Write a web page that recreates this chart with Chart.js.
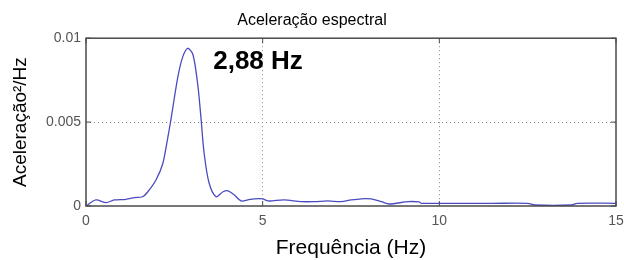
<!DOCTYPE html>
<html>
<head>
    <title>Aceleração espectral</title>
    <style>
        body { margin: 0; background: #fff; }
        #wrap { width: 624px; height: 260px; }
    </style>
</head>
<body>
    <div id="wrap"><canvas id="chart"></canvas></div>

    <script src="https://cdn.jsdelivr.net/npm/chart.js"></script>
    <script>
        // spectrum (Hz, aceleração²/Hz)
        const freqs = [0, 0.28, 0.57, 0.8, 1.13, 1.37, 1.6, 1.75, 1.98, 2.17, 2.3, 2.4, 2.6, 2.74, 2.88,
            3.03, 3.17, 3.26, 3.34, 3.48, 3.68, 3.88, 4.02, 4.2, 4.39, 4.58, 4.76, 5.0, 5.15, 5.6, 6.09,
            6.46, 6.85, 7.22, 7.5, 7.79, 8.07, 8.36, 8.58, 9.12, 9.43, 9.49, 10.5, 11.5, 12.5, 12.7,
            13.74, 13.9, 15];
        const accel = [0, 0.00036, 0.0002, 0.00036, 0.0004, 0.0005, 0.00055, 0.00085, 0.00155, 0.0025,
            0.0039, 0.0051, 0.0077, 0.0089, 0.0094, 0.009, 0.0071, 0.0051, 0.0032, 0.0014, 0.00055,
            0.00085, 0.0009, 0.00065, 0.0003, 0.00036, 0.00043, 0.00043, 0.0003, 0.00036, 0.00026,
            0.00026, 0.0003, 0.00026, 0.00036, 0.00043, 0.00042, 0.00026, 0.00012, 0.00026, 0.00024,
            0.00016, 0.00016, 0.00016, 0.00016, 0.00006, 0.00006, 0.00016, 0.00016];
        const xTicks = [0, 5, 10, 15];
        const yTicks = [0, 0.005, 0.01];
        const yTickLabels = ['0', '0.005', '0.01'];
        const peakLabel = '2,88 Hz';

        const points = freqs.map((f, i) => ({ x: f, y: accel[i] }));
        const FONT = '"Liberation Sans", Arial, sans-serif';

        // MATLAB-like box, inward ticks and the peak label
        const boxPlugin = {
            id: 'box',
            afterDraw(chart) {
                const ctx = chart.ctx;
                const a = chart.chartArea;
                const xs = chart.scales.x, ys = chart.scales.y;
                ctx.save();
                ctx.strokeStyle = '#4a4a4a';
                ctx.lineWidth = 1.5;
                ctx.strokeRect(a.left, a.top, a.right - a.left, a.bottom - a.top);
                ctx.lineWidth = 1;
                xTicks.forEach(v => {
                    const px = xs.getPixelForValue(v);
                    ctx.beginPath();
                    ctx.moveTo(px, a.bottom); ctx.lineTo(px, a.bottom - 5);
                    ctx.moveTo(px, a.top); ctx.lineTo(px, a.top + 5);
                    ctx.stroke();
                });
                yTicks.forEach(v => {
                    const py = ys.getPixelForValue(v);
                    ctx.beginPath();
                    ctx.moveTo(a.left, py); ctx.lineTo(a.left + 5, py);
                    ctx.moveTo(a.right, py); ctx.lineTo(a.right - 5, py);
                    ctx.stroke();
                });
                ctx.fillStyle = '#000';
                ctx.font = 'bold 26px ' + FONT;
                ctx.textAlign = 'left';
                ctx.textBaseline = 'middle';
                ctx.fillText(peakLabel, xs.getPixelForValue(3.6), ys.getPixelForValue(0.0086));
                ctx.restore();
            }
        };

        const gridColor = (ctx, ends) => ends.includes(ctx.tick.value) ? 'rgba(0,0,0,0)' : '#888';

        new Chart(document.getElementById('chart'), {
            type: 'scatter',
            data: {
                datasets: [{
                    data: points,
                    showLine: true,
                    borderColor: '#4b4bc0',
                    borderWidth: 1.3,
                    pointRadius: 0,
                    tension: 0.3
                }]
            },
            options: {
                responsive: true,
                maintainAspectRatio: false,
                animation: false,
                layout: { padding: { left: 0, right: 0, top: 0, bottom: 0 } },
                plugins: {
                    legend: { display: false },
                    tooltip: { enabled: false },
                    title: {
                        display: true,
                        text: 'Aceleração espectral',
                        color: '#000',
                        font: { family: FONT, size: 16, weight: 'normal' },
                        padding: { top: 11, bottom: 8 }
                    }
                },
                scales: {
                    x: {
                        type: 'linear',
                        min: 0, max: 15,
                        afterBuildTicks: s => { s.ticks = xTicks.map(v => ({ value: v })); },
                        afterFit: s => { s.height = 54; s.paddingRight = 8; s.paddingLeft = 0; },
                        ticks: {
                            color: '#555',
                            padding: 7,
                            font: { family: FONT, size: 14 }
                        },
                        grid: { color: c => gridColor(c, [0, 15]), drawTicks: false, lineWidth: 1 },
                        border: { display: false, dash: [1, 3] },
                        title: {
                            display: true,
                            text: 'Frequência (Hz)',
                            color: '#000',
                            font: { family: FONT, size: 21 },
                            padding: { top: 0, bottom: -1 }
                        }
                    },
                    y: {
                        min: 0, max: 0.01,
                        afterBuildTicks: s => { s.ticks = yTicks.map(v => ({ value: v })); },
                        afterFit: s => { s.width = 86; },
                        ticks: {
                            color: '#555',
                            padding: 5,
                            font: { family: FONT, size: 14 },
                            callback: (v) => yTickLabels[yTicks.indexOf(v)]
                        },
                        grid: { color: c => gridColor(c, [0, 0.01]), drawTicks: false, lineWidth: 1 },
                        border: { display: false, dash: [1, 3] },
                        title: {
                            display: true,
                            text: 'Aceleração²/Hz',
                            color: '#000',
                            font: { family: FONT, size: 19 },
                            padding: { top: 9, bottom: 0 }
                        }
                    }
                }
            },
            plugins: [boxPlugin]
        });
    </script>
</body>
</html>
